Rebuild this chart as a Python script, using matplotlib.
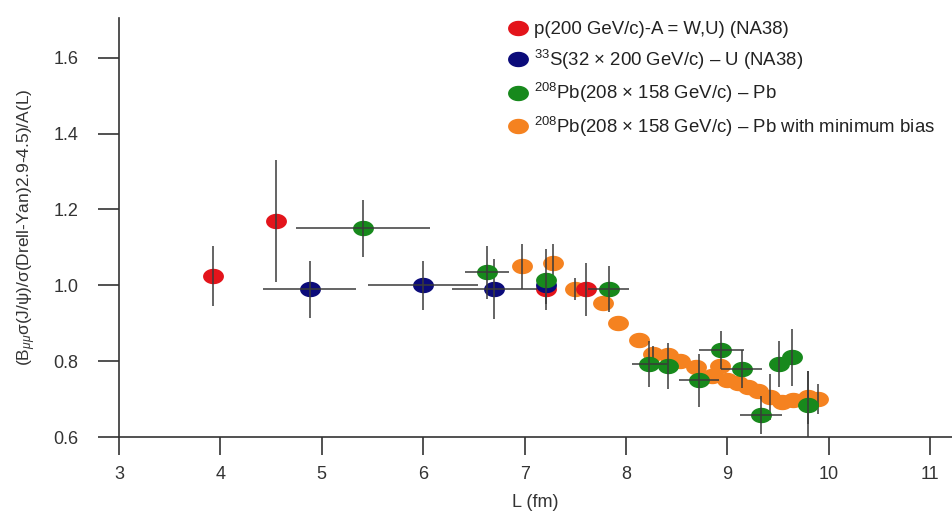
import numpy as np
import matplotlib.pyplot as plt
from matplotlib.path import Path
from matplotlib.lines import Line2D

plt.rcParams['font.family'] = ['Liberation Sans', 'DejaVu Sans']
plt.rcParams['mathtext.fontset'] = 'custom'
plt.rcParams['mathtext.rm'] = 'Liberation Sans'
plt.rcParams['mathtext.it'] = 'Liberation Sans:italic'

# p(200 GeV/c)-A (NA38)
p_x = [3.93, 4.55, 7.21, 7.61]
p_y = [1.025, 1.17, 0.99, 0.99]
p_ey = [0.08, 0.16, 0.04, 0.07]

# 33S - U (NA38)
s_x = [4.88, 6.00, 6.70, 7.21]
s_y = [0.99, 1.00, 0.99, 1.00]
s_ex = [0.46, 0.54, 0.42, 0.0]
s_ey = [0.075, 0.065, 0.08, 0.0]

# 208Pb - Pb
pb_x = [5.41, 6.63, 7.21, 7.83, 8.23, 8.41, 8.72, 8.94, 9.14, 9.33, 9.51, 9.64, 9.79]
pb_y = [1.15, 1.035, 1.015, 0.99, 0.793, 0.787, 0.75, 0.83, 0.78, 0.658, 0.793, 0.81, 0.685]
pb_ex = [0.66, 0.22, 0.0, 0.2, 0.17, 0.0, 0.2, 0.22, 0.2, 0.21, 0.0, 0.0, 0.0]
pb_ey = [0.075, 0.07, 0.08, 0.06, 0.06, 0.06, 0.07, 0.05, 0.05, 0.05, 0.06, 0.075, 0.09]

# 208Pb - Pb minimum bias
mb_x = [6.97, 7.28, 7.50, 7.77, 7.92, 8.13, 8.27, 8.41, 8.53, 8.69, 8.85, 8.93,
        9.00, 9.10, 9.20, 9.30, 9.42, 9.54, 9.65, 9.79, 9.89]
mb_y = [1.05, 1.06, 0.99, 0.953, 0.90, 0.855, 0.82, 0.816, 0.80, 0.785, 0.761, 0.787,
        0.75, 0.742, 0.732, 0.72, 0.705, 0.692, 0.697, 0.705, 0.70]
mb_ey = [0.06, 0.05, 0.03, 0.0, 0.0, 0.0, 0.02, 0.0, 0.0, 0.0, 0.0, 0.0,
         0.0, 0.0, 0.0, 0.0, 0.06, 0.0, 0.0, 0.07, 0.04]

labels = ['p(200 GeV/c)-A = W,U) (NA38)',
          r'$^{33}$S(32 × 200 GeV/c) – U (NA38)',
          r'$^{208}$Pb(208 × 158 GeV/c) – Pb',
          r'$^{208}$Pb(208 × 158 GeV/c) – Pb with minimum bias']
colors = ['#e3141b', '#0b0b7a', '#17891c', '#f58220']

t = np.linspace(0, 2 * np.pi, 60)
ell = Path(np.column_stack([np.cos(t), 0.72 * np.sin(t)]), closed=True)

fig = plt.figure(figsize=(9.52, 5.11), dpi=100)
ax = fig.add_axes([119 / 952, 74 / 511, 833 / 952, 419 / 511])

ebc = '#3a3a3a'
def draw(x, y, ex, ey, c, z):
    ax.plot(x, y, ls='none', marker=ell, ms=14, color=c, mec=c, zorder=z)
    ax.errorbar(x, y, xerr=ex, yerr=ey, fmt='none', ecolor=ebc, elinewidth=1.1,
                capsize=0, zorder=z + 0.5)

draw(mb_x, mb_y, None, mb_ey, colors[3], 2)
draw(p_x, p_y, None, p_ey, colors[0], 3)
draw(s_x, s_y, s_ex, s_ey, colors[1], 4)
draw(pb_x, pb_y, pb_ex, pb_ey, colors[2], 5)

ax.set_xlim(3, 11.215)
ax.set_ylim(0.6, 1.705)
ax.set_xticks(range(3, 12))
ax.set_yticks([0.6, 0.8, 1.0, 1.2, 1.4, 1.6])
ax.set_yticklabels(['0.6', '0.8', '1.0', '1.2', '1.4', '1.6'])
ax.spines['top'].set_visible(False)
ax.spines['right'].set_visible(False)
for s in ['left', 'bottom']:
    ax.spines[s].set_color('#333333')
    ax.spines[s].set_linewidth(1.2)
ax.tick_params(axis='y', direction='out', length=15, width=1.2, color='#333333',
               labelsize=13, pad=14, labelcolor='#333333')
ax.tick_params(axis='x', direction='out', length=13, width=1.2, color='#333333',
               labelsize=13, pad=8, labelcolor='#333333')

ax.set_xlabel('L (fm)', fontsize=13, color='#333333', labelpad=8)
ax.set_ylabel(r'(B$_{\mu\mu}$σ(J/ψ)/σ(Drell-Yan)2.9-4.5)/A(L)', fontsize=12.5,
              color='#333333', labelpad=11)

handles = [Line2D([], [], ls='none', marker=ell, ms=14, color=c) for c in colors]
ax.legend(handles, labels, loc='upper left', bbox_to_anchor=(500 / 952, 1 - 12 / 511),
          bbox_transform=fig.transFigure, frameon=False, fontsize=13.4,
          handlelength=0.9, handletextpad=0.4, labelspacing=0.5,
          borderpad=0, labelcolor='#222222')

fig.savefig('out.png', dpi=100)
